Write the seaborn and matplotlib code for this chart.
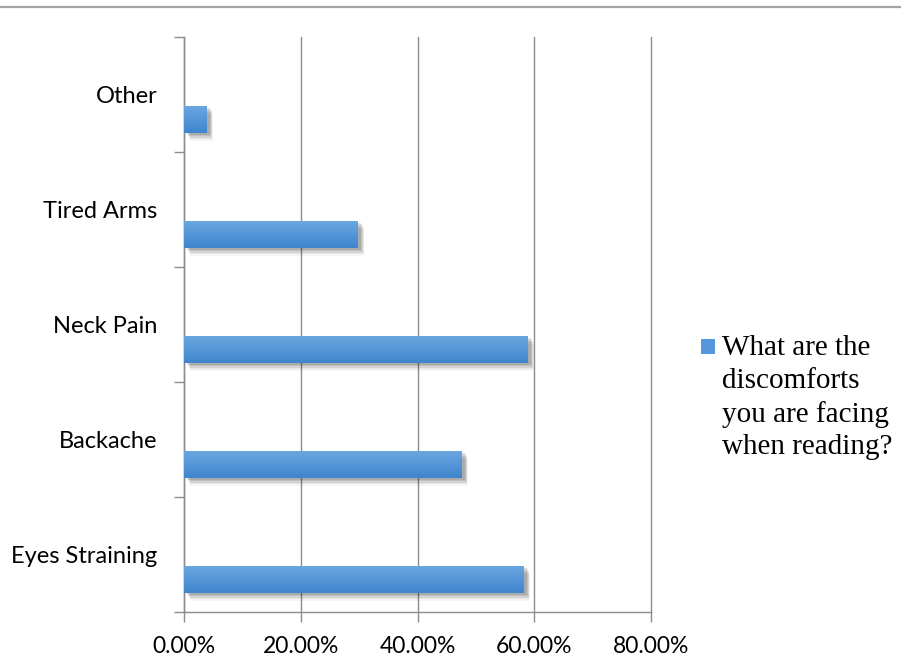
import numpy as np
import pandas as pd
import matplotlib
matplotlib.use("Agg")
import matplotlib.pyplot as plt
import matplotlib.patheffects as pe
from matplotlib.lines import Line2D
from matplotlib.patches import Rectangle
from matplotlib.colors import LinearSegmentedColormap
import seaborn as sns

# Survey results
categories = ["Other", "Tired Arms", "Neck Pain", "Backache", "Eyes Straining"]
shares = [0.039, 0.298, 0.589, 0.476, 0.582]
series_name = "What are the\ndiscomforts\nyou are facing\nwhen reading?"
x_ticks = [0.0, 0.2, 0.4, 0.6, 0.8]
x_tick_labels = ["0.00%", "20.00%", "40.00%", "60.00%", "80.00%"]

df = pd.DataFrame({"category": categories, "share": shares, "series": series_name})

sns.set_theme(style="white")
plt.rcParams["font.family"] = ["Lato", "DejaVu Sans"]

fig = plt.figure(figsize=(9.01, 6.72), dpi=100)
ax = fig.add_axes([184 / 901, 1 - 612 / 672, (651 - 184) / 901, (612 - 37) / 672])

grid_col = "#8c8c8c"
base_col = "#5596dc"

sns.barplot(
    data=df, x="share", y="category", hue="series",
    order=categories, hue_order=["_blank", series_name],
    orient="h", dodge=True, width=0.87, gap=0.46,
    palette={"_blank": base_col, series_name: base_col},
    legend=False, ax=ax, zorder=3, linewidth=0, edgecolor="none",
)

# gradient fill + soft drop shadow on each bar
grad = LinearSegmentedColormap.from_list("bar", ["#6ca8e1", "#3f86ce"])
shadow = [pe.SimplePatchShadow(offset=(dx, -dy), shadow_rgbFace="black", alpha=a)
          for dx, dy, a in [(4.5, 5.5, 0.04), (4, 4.5, 0.06), (3.5, 3.5, 0.08),
                            (3, 2.5, 0.09), (2.5, 1.5, 0.10)]]
for bar in ax.patches:
    if not np.isfinite(bar.get_width()) or bar.get_width() == 0:
        continue
    bar.set_path_effects(shadow + [pe.Normal()])
    x0, y0 = bar.get_x(), bar.get_y()
    w, h = bar.get_width(), bar.get_height()
    img = ax.imshow(np.linspace(0, 1, 64).reshape(-1, 1), cmap=grad, aspect="auto",
                    extent=(x0, x0 + w, y0 + h, y0), origin="upper", zorder=4,
                    interpolation="bilinear")
    img.set_clip_path(bar)

ax.set_xlim(0, 0.8)
ax.set_ylim(len(categories) - 0.5, -0.5)
ax.set_xticks(x_ticks)
ax.set_xticklabels(x_tick_labels)
ax.set_yticks(range(len(categories)))
ax.set_yticklabels(categories)
ax.set_yticks(np.arange(-0.5, len(categories), 1.0), minor=True)
ax.set_xlabel("")
ax.set_ylabel("")

ax.xaxis.grid(True, color=grid_col, linewidth=1.0, zorder=0)
for gl in ax.get_xgridlines():
    gl.set_clip_on(False)
ax.yaxis.grid(False)
ax.set_axisbelow(True)
for side in ["top", "right"]:
    ax.spines[side].set_visible(False)
for side in ["left", "bottom"]:
    ax.spines[side].set_color(grid_col)
    ax.spines[side].set_linewidth(1.0)

ax.tick_params(axis="x", which="major", direction="out", length=7, width=1.0,
               color=grid_col, labelsize=16.5, pad=10, labelcolor="black", bottom=True)
ax.tick_params(axis="y", which="major", length=0, labelsize=17, pad=19, labelcolor="black")
ax.tick_params(axis="y", which="minor", direction="out", length=7, width=1.0,
               color=grid_col, left=True)

# legend key and multi-line series label
fig.add_artist(Rectangle((701 / 901, 1 - 354 / 672), 14 / 901, 15 / 672,
                         transform=fig.transFigure, facecolor=base_col, edgecolor="none"))
fig.text(722 / 901, 1 - 335.5 / 672, series_name, ha="left", va="top",
         family=["Liberation Serif"], fontsize=21, linespacing=1.32, color="black")

# thin rule across the top of the figure
fig.add_artist(Line2D([0, 1], [1 - 6.5 / 672] * 2, transform=fig.transFigure,
                      color="#a3a3a3", linewidth=1.6))

fig.savefig("out.png", dpi=100)
